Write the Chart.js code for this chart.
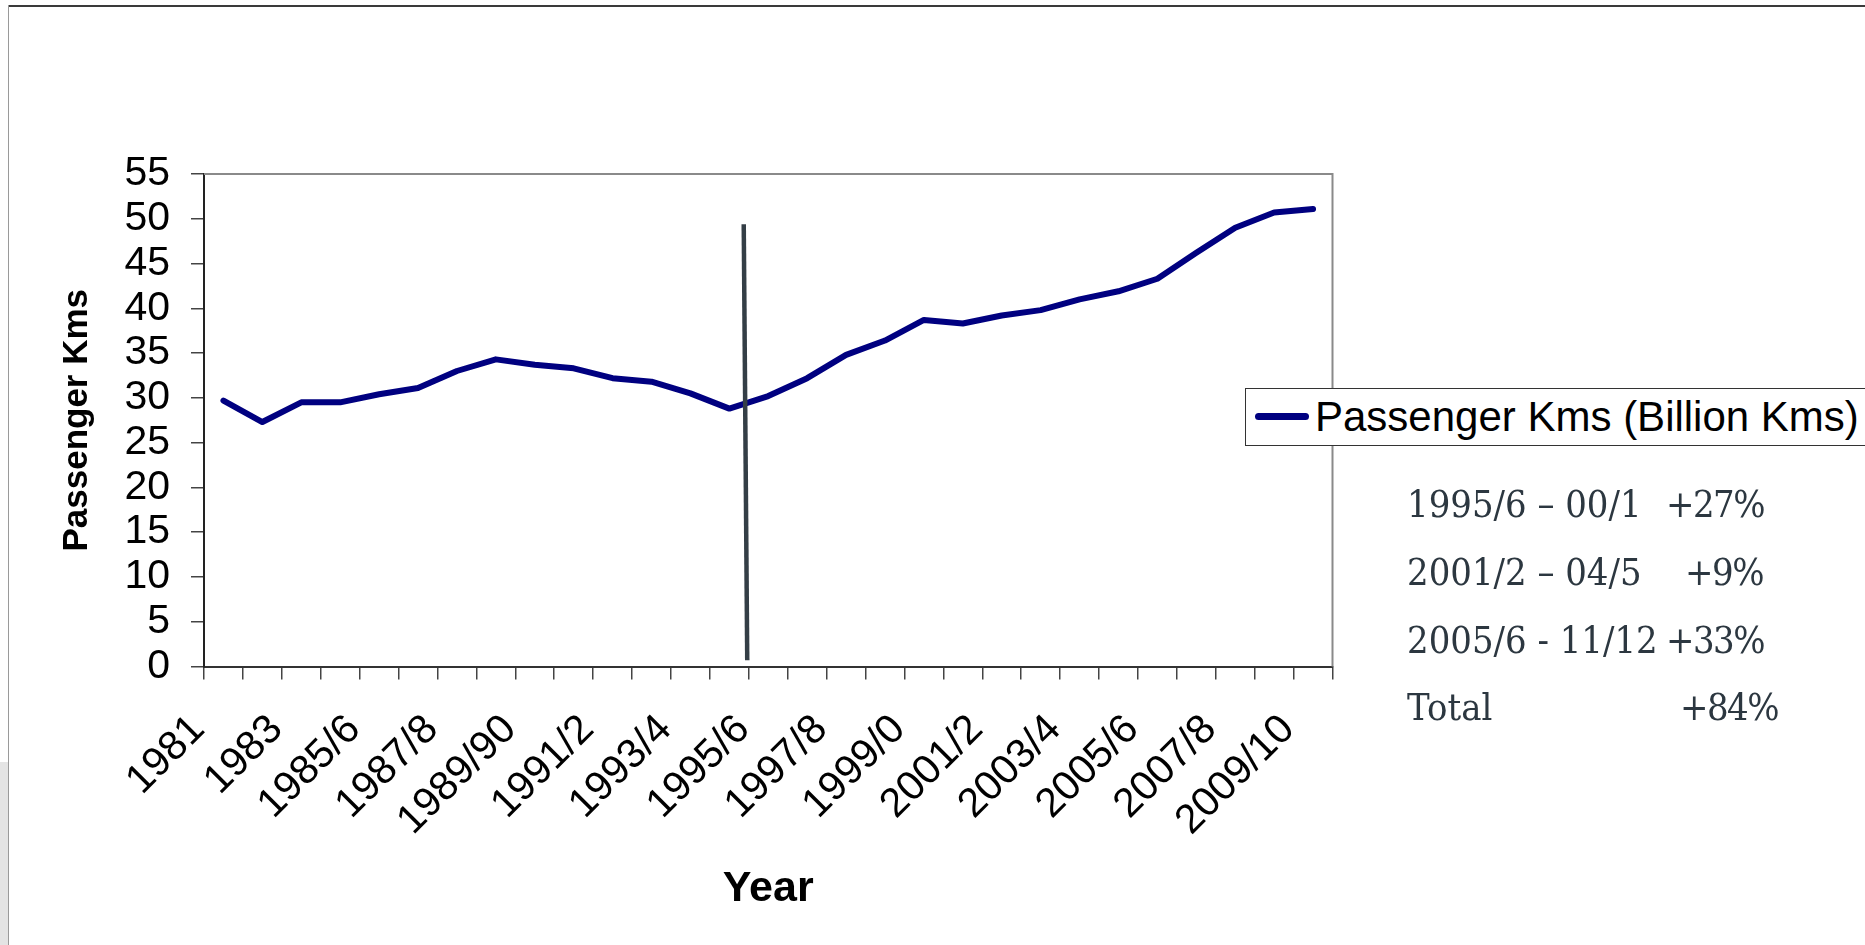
<!DOCTYPE html>
<html lang="en">
<head>
    <meta charset="UTF-8">
    <title>Passenger Kms (Billion Kms)</title>
    <script src="https://cdn.jsdelivr.net/npm/chart.js"></script>
    <style>
        html, body {
            margin: 0;
            padding: 0;
            background: #fff;
            overflow: hidden;
        }
        #wrap {
            position: relative;
            width: 1865px;
            height: 945px;
            overflow: hidden;
            font-family: "Liberation Sans", Arial, sans-serif;
        }
        #chart {
            position: absolute;
            left: 0;
            top: 0;
        }
        .frame-top {
            position: absolute;
            left: 8px;
            top: 5px;
            width: 1860px;
            height: 2px;
            background: #3a3a3a;
        }
        .frame-left {
            position: absolute;
            left: 8px;
            top: 5px;
            width: 1px;
            height: 940px;
            background: #9a9a9a;
        }
        .frame-strip {
            position: absolute;
            left: 0;
            top: 762px;
            width: 8px;
            height: 183px;
            background: #e4e4e4;
        }
        .legend {
            position: absolute;
            left: 1245px;
            top: 388px;
            width: 700px;
            height: 56px;
            border: 1.5px solid #333;
            background: #fff;
        }
        .legend .swatch {
            position: absolute;
            left: 9px;
            top: 24px;
            width: 54px;
            height: 7px;
            border-radius: 4px;
            background: #000080;
        }
        .legend .text {
            position: absolute;
            left: 69px;
            top: 7px;
            font-size: 42px;
            line-height: 42px;
            color: #000;
            white-space: nowrap;
        }
        .note {
            position: absolute;
            font-family: "DejaVu Serif", serif;
            font-size: 34px;
            line-height: 34px;
            color: #2c3740;
            white-space: nowrap;
            transform: scaleY(1.08);
        }
        .note.value {
            letter-spacing: -1.5px;
        }
    </style>
</head>
<body>
    <div id="wrap">
        <canvas id="chart" width="1865" height="945"></canvas>
        <div class="frame-top"></div>
        <div class="frame-left"></div>
        <div class="frame-strip"></div>
        <div class="legend">
            <div class="swatch"></div>
            <div class="text" id="legendText"></div>
        </div>
        <div id="notes"></div>
    </div>

    <script>
        // categories (one per year, labels shown on every second one)
        const years = ['1981', '1982', '1983', '1984/5', '1985/6', '1986/7', '1987/8', '1988/9',
            '1989/90', '1990/1', '1991/2', '1992/3', '1993/4', '1994/5', '1995/6', '1996/7',
            '1997/8', '1998/9', '1999/0', '2000/1', '2001/2', '2002/3', '2003/4', '2004/5',
            '2005/6', '2006/7', '2007/8', '2008/9', '2009/10'];

        // passenger kms, billions
        const passengerKms = [29.7, 27.3, 29.5, 29.5, 30.4, 31.1, 33.0, 34.3, 33.7, 33.3,
            32.2, 31.8, 30.5, 28.8, 30.2, 32.2, 34.8, 36.4, 38.7, 38.3,
            39.2, 39.8, 41.0, 41.9, 43.3, 46.2, 49.0, 50.7, 51.1];

        // hand drawn marker line (x in category units from the left edge)
        const markerX = [13.87, 13.96];
        const markerY = [49.4, 0.7];

        const yTicks = [0, 5, 10, 15, 20, 25, 30, 35, 40, 45, 50, 55];

        const seriesName = 'Passenger Kms (Billion Kms)';
        const periodLabels = ['1995/6 \u2013 00/1', '2001/2 \u2013 04/5', '2005/6 - 11/12', 'Total'];
        const periodChanges = ['+27%', '+9%', '+33%', '+84%'];

        document.getElementById('legendText').textContent = seriesName;

        // text block on the right
        const noteTops = [487, 555, 623, 690];
        const changeRights = [1764, 1763, 1764, 1778];
        const notes = document.getElementById('notes');
        periodLabels.forEach((txt, i) => {
            const a = document.createElement('div');
            a.className = 'note';
            a.style.left = '1407px';
            a.style.top = noteTops[i] + 'px';
            a.textContent = txt;
            notes.appendChild(a);
            const b = document.createElement('div');
            b.className = 'note value';
            b.style.right = (1865 - changeRights[i]) + 'px';
            b.style.top = noteTops[i] + 'px';
            b.textContent = periodChanges[i];
            notes.appendChild(b);
        });

        // grey border on top and right of the plot area
        const plotFrame = {
            id: 'plotFrame',
            beforeDatasetsDraw(chart) {
                const { ctx, chartArea: a } = chart;
                ctx.save();
                ctx.strokeStyle = '#8a8a8a';
                ctx.lineWidth = 2;
                ctx.beginPath();
                ctx.moveTo(a.left, a.top);
                ctx.lineTo(a.right, a.top);
                ctx.lineTo(a.right, a.bottom);
                ctx.stroke();
                ctx.restore();
            }
        };

        const sans = '"Liberation Sans", Arial, sans-serif';

        const ctx = document.getElementById('chart').getContext('2d');
        new Chart(ctx, {
            type: 'line',
            data: {
                labels: years,
                datasets: [
                    {
                        label: 'marker',
                        data: markerX.map((x, i) => ({ x: x, y: markerY[i] })),
                        xAxisID: 'x2',
                        borderColor: '#343e46',
                        borderWidth: 4.5,
                        borderCapStyle: 'butt',
                        pointRadius: 0,
                        fill: false,
                        order: 0
                    },
                    {
                        label: seriesName,
                        data: passengerKms,
                        xAxisID: 'x',
                        borderColor: '#000080',
                        borderWidth: 6,
                        borderJoinStyle: 'round',
                        borderCapStyle: 'round',
                        pointRadius: 0,
                        tension: 0,
                        fill: false,
                        order: 1
                    }
                ]
            },
            options: {
                responsive: false,
                animation: false,
                devicePixelRatio: 1,
                layout: {
                    padding: { left: 0, top: 174, right: 532.5, bottom: 0 }
                },
                plugins: {
                    legend: { display: false },
                    tooltip: { enabled: false }
                },
                scales: {
                    x: {
                        type: 'category',
                        offset: true,
                        afterFit: s => { s.height = 278.5; },
                        grid: {
                            offset: true,
                            drawOnChartArea: false,
                            drawTicks: true,
                            tickLength: 13,
                            color: '#444',
                            lineWidth: 1.5
                        },
                        border: { color: '#333', width: 2 },
                        ticks: {
                            autoSkip: false,
                            minRotation: 45,
                            maxRotation: 45,
                            padding: 26,
                            labelOffset: -25,
                            color: '#000',
                            font: { family: sans, size: 41 },
                            callback: (v, i) => (i % 2 === 0 ? years[i] : '')
                        },
                        title: {
                            display: true,
                            text: 'Year',
                            color: '#000',
                            font: { family: sans, size: 43, weight: 'bold' },
                            padding: { top: 0, bottom: 30 }
                        }
                    },
                    x2: {
                        type: 'linear',
                        display: false,
                        min: 0,
                        max: years.length
                    },
                    y: {
                        min: 0,
                        max: 55,
                        afterFit: s => { s.width = 204; },
                        afterBuildTicks: s => { s.ticks = yTicks.map(v => ({ value: v })); },
                        grid: {
                            drawOnChartArea: false,
                            drawTicks: true,
                            tickLength: 13,
                            color: '#444',
                            lineWidth: 1.5
                        },
                        border: { color: '#222', width: 2 },
                        ticks: {
                            autoSkip: false,
                            padding: 21,
                            color: '#000',
                            font: { family: sans, size: 41 }
                        },
                        title: {
                            display: true,
                            text: 'Passenger Kms',
                            color: '#000',
                            font: { family: sans, size: 35, weight: 'bold' },
                            padding: { top: 56, bottom: 0 }
                        }
                    }
                }
            },
            plugins: [plotFrame]
        });
    </script>
</body>
</html>
